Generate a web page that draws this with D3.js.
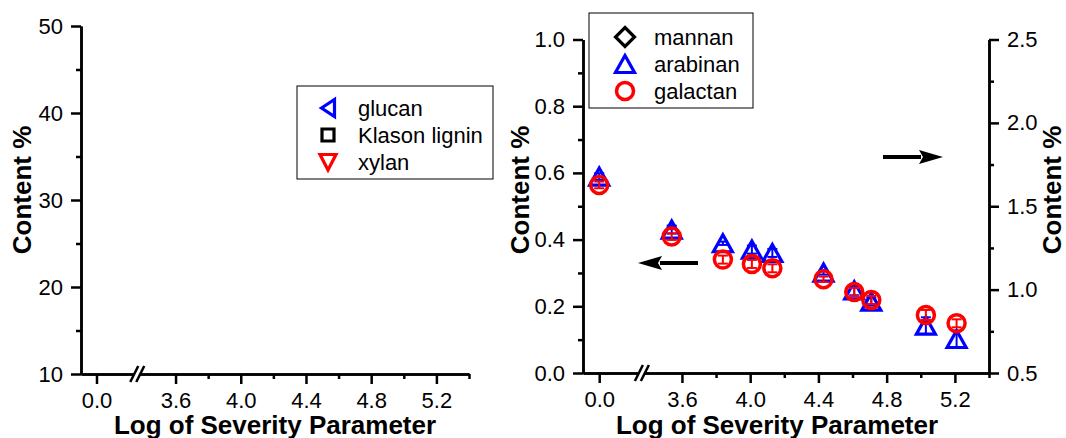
<!DOCTYPE html>
<html>
<head>
<meta charset="utf-8">
<script src="https://cdn.jsdelivr.net/npm/d3@7"></script>
<style>
  body { margin: 0; background: #fff; }
  text { font-family: "Liberation Sans", Arial, sans-serif; fill: #000; }
  .axis path, .axis line { stroke: #000; stroke-width: 2.5; }
  .axis text { font-size: 22px; }
  .title { font-size: 26px; font-weight: bold; }
  .legtext { font-size: 22px; }
</style>
</head>
<body>
<div id="chart"></div>
<script>
// x axis (broken) ticks, shared by both panels
var xTicks = [0.0, 3.6, 4.0, 4.4, 4.8, 5.2];
var xMinor = [3.8, 4.2, 4.6, 5.0, 5.4];

// left panel
var leftYTicks = [10, 20, 30, 40, 50];
var leftYMinor = [15, 25, 35, 45];
var leftLegend = ["glucan", "Klason lignin", "xylan"];

// right panel
var rightYTicks = [0.0, 0.2, 0.4, 0.6, 0.8, 1.0];
var rightYMinor = [0.1, 0.3, 0.5, 0.7, 0.9];
var right2Ticks = [0.5, 1.0, 1.5, 2.0, 2.5];
var right2Minor = [0.75, 1.25, 1.75, 2.25];
var rightLegend = ["mannan", "arabinan", "galactan"];

var severity    = [0.0,   3.54,  3.84,  4.01,  4.13,  4.43,  4.61,  4.71,  5.03,  5.21];
var arabinan    = [0.589, 0.430, 0.389, 0.370, 0.360, 0.301, 0.248, 0.214, 0.142, 0.102];
var arabinanErr = [0.010, 0.012, 0.005, 0.012, 0.012, 0.006, 0.015, 0.012, 0.025, 0.025];
var galactan    = [0.564, 0.409, 0.340, 0.327, 0.314, 0.281, 0.243, 0.219, 0.174, 0.149];
var galactanErr = [0.010, 0.010, 0.012, 0.012, 0.012, 0.008, 0.012, 0.012, 0.015, 0.012];

var W = 1066, H = 438;
var svg = d3.select("#chart").append("svg")
    .attr("width", W)
    .attr("height", H);

svg.append("rect").attr("width", W).attr("height", H).attr("fill", "#fff");

// broken x domain: [-0.095, 0.25] // [3.365, 5.4]
var xDom = [-0.095, 0.25, 3.365, 5.4];
function brokenScale(x0, x1) {
    var xb = x0 + (xDom[1] - xDom[0]) / ((xDom[1] - xDom[0]) + (xDom[3] - xDom[2])) * (x1 - x0);
    return d3.scaleLinear().domain(xDom).range([x0, xb, xb, x1]);
}

// symbol paths, centered on bounding box
function markerPath(type) {
    if (type === "up") return "M0,-8.5L9.5,8.5L-9.5,8.5Z";
    if (type === "down") return "M0,8L8,-7.5L-8,-7.5Z";
    if (type === "left") return "M-6.5,0L6.5,-8.5L6.5,8.5Z";
    if (type === "square") return "M-6,-6H6V6H-6Z";
    if (type === "diamond") return "M0,-9.5L9.5,0L0,9.5L-9.5,0Z";
    return null;
}
function drawMarker(g, type, cx, cy, color) {
    if (type === "circle") {
        g.append("circle").attr("cx", cx).attr("cy", cy).attr("r", 8.5)
            .attr("fill", "none").attr("stroke", color).attr("stroke-width", 3.5);
    } else {
        g.append("path").attr("d", markerPath(type))
            .attr("transform", "translate(" + cx + "," + cy + ")")
            .attr("fill", "none").attr("stroke", color).attr("stroke-width", 3.2)
            .attr("stroke-linejoin", "miter");
    }
}

function drawXAxis(x, yPos) {
    svg.append("g").attr("class", "axis")
        .attr("transform", "translate(0," + yPos + ")")
        .call(d3.axisBottom(x).tickValues(xMinor).tickSize(5).tickSizeOuter(0).tickFormat(""));
    svg.append("g").attr("class", "axis")
        .attr("transform", "translate(0," + yPos + ")")
        .call(d3.axisBottom(x).tickValues(xTicks).tickSize(10).tickSizeOuter(0)
            .tickPadding(8).tickFormat(d3.format(".1f")));
    // break mark
    var xb = x(xDom[1]);
    var brk = svg.append("g");
    brk.append("rect").attr("x", xb - 3).attr("y", yPos - 3).attr("width", 6).attr("height", 6).attr("fill", "#fff");
    [-3, 3].forEach(function (o) {
        brk.append("line")
            .attr("x1", xb + o - 4).attr("y1", yPos + 8)
            .attr("x2", xb + o + 4).attr("y2", yPos - 8)
            .attr("stroke", "#000").attr("stroke-width", 2.5);
    });
}

function drawYAxis(y, xPos, major, minor, fmt, right) {
    var maker = right ? d3.axisRight : d3.axisLeft;
    svg.append("g").attr("class", "axis")
        .attr("transform", "translate(" + xPos + ",0)")
        .call(maker(y).tickValues(minor).tickSize(5).tickSizeOuter(0).tickFormat(""));
    svg.append("g").attr("class", "axis")
        .attr("transform", "translate(" + xPos + ",0)")
        .call(maker(y).tickValues(major).tickSize(10).tickSizeOuter(0).tickPadding(8).tickFormat(fmt));
}

function arrow(x1, x2, yPos) {
    var dir = x2 > x1 ? 1 : -1;
    var headLen = 24;
    svg.append("line")
        .attr("x1", x1).attr("y1", yPos)
        .attr("x2", x2 - dir * headLen + dir * 2).attr("y2", yPos)
        .attr("stroke", "#000").attr("stroke-width", 4);
    svg.append("path")
        .attr("d", "M" + x2 + "," + yPos + "L" + (x2 - dir * headLen) + "," + (yPos - 7) +
            "L" + (x2 - dir * headLen + dir * 4) + "," + yPos +
            "L" + (x2 - dir * headLen) + "," + (yPos + 7) + "Z")
        .attr("fill", "#000");
}

////////////////////////////////
// left panel
var xL = brokenScale(81, 469);
var yL = d3.scaleLinear().domain([10, 50]).range([374, 26]);

drawXAxis(xL, 374);
drawYAxis(yL, 81, leftYTicks, leftYMinor, d3.format("d"), false);

svg.append("text").attr("class", "title")
    .attr("text-anchor", "middle")
    .attr("x", 275).attr("y", 434)
    .text("Log of Severity Parameter");
svg.append("text").attr("class", "title")
    .attr("text-anchor", "middle")
    .attr("transform", "translate(31,190) rotate(-90)")
    .text("Content %");

var legL = svg.append("g");
legL.append("rect").attr("x", 297).attr("y", 86).attr("width", 196).attr("height", 93)
    .attr("fill", "#fff").attr("stroke", "#000").attr("stroke-width", 1);
var legLTypes = [["left", "#0000ff"], ["square", "#000"], ["down", "#ff0000"]];
leftLegend.forEach(function (name, i) {
    var yy = 108 + i * 27;
    drawMarker(legL, legLTypes[i][0], 328, yy, legLTypes[i][1]);
    legL.append("text").attr("class", "legtext")
        .attr("x", 358).attr("y", yy).attr("dy", "0.35em").text(name);
});

////////////////////////////////
// right panel
var xR = brokenScale(583, 989);
var yR = d3.scaleLinear().domain([0, 1]).range([373, 39.5]);
var yR2 = d3.scaleLinear().domain([0.5, 2.5]).range([373, 39.5]);

drawXAxis(xR, 373);
drawYAxis(yR, 583, rightYTicks, rightYMinor, d3.format(".1f"), false);
drawYAxis(yR2, 989, right2Ticks, right2Minor, d3.format(".1f"), true);

svg.append("text").attr("class", "title")
    .attr("text-anchor", "middle")
    .attr("x", 777).attr("y", 434)
    .text("Log of Severity Parameter");
svg.append("text").attr("class", "title")
    .attr("text-anchor", "middle")
    .attr("transform", "translate(529,190) rotate(-90)")
    .text("Content %");
svg.append("text").attr("class", "title")
    .attr("text-anchor", "middle")
    .attr("transform", "translate(1061,190) rotate(-90)")
    .text("Content %");

arrow(698, 638, 263);
arrow(883, 943, 157);

// data: error bars then markers
var pts = svg.append("g");
function series(vals, errs, type, color) {
    vals.forEach(function (v, i) {
        var cx = xR(severity[i]);
        var top = yR(v + errs[i]), bot = yR(v - errs[i]);
        pts.append("line").attr("x1", cx).attr("x2", cx).attr("y1", top).attr("y2", bot)
            .attr("stroke", color).attr("stroke-width", 2);
        [top, bot].forEach(function (yy) {
            pts.append("line").attr("x1", cx - 5).attr("x2", cx + 5).attr("y1", yy).attr("y2", yy)
                .attr("stroke", color).attr("stroke-width", 2);
        });
        drawMarker(pts, type, cx, yR(v), color);
    });
}
series(arabinan, arabinanErr, "up", "#0000ff");
series(galactan, galactanErr, "circle", "#ff0000");

var legR = svg.append("g");
legR.append("rect").attr("x", 589).attr("y", 13).attr("width", 164).attr("height", 95)
    .attr("fill", "#fff").attr("stroke", "#000").attr("stroke-width", 1);
var legRTypes = [["diamond", "#000"], ["up", "#0000ff"], ["circle", "#ff0000"]];
rightLegend.forEach(function (name, i) {
    var yy = 37 + i * 27;
    drawMarker(legR, legRTypes[i][0], 625, yy, legRTypes[i][1]);
    legR.append("text").attr("class", "legtext")
        .attr("x", 654).attr("y", yy).attr("dy", "0.35em").text(name);
});
</script>
</body>
</html>
